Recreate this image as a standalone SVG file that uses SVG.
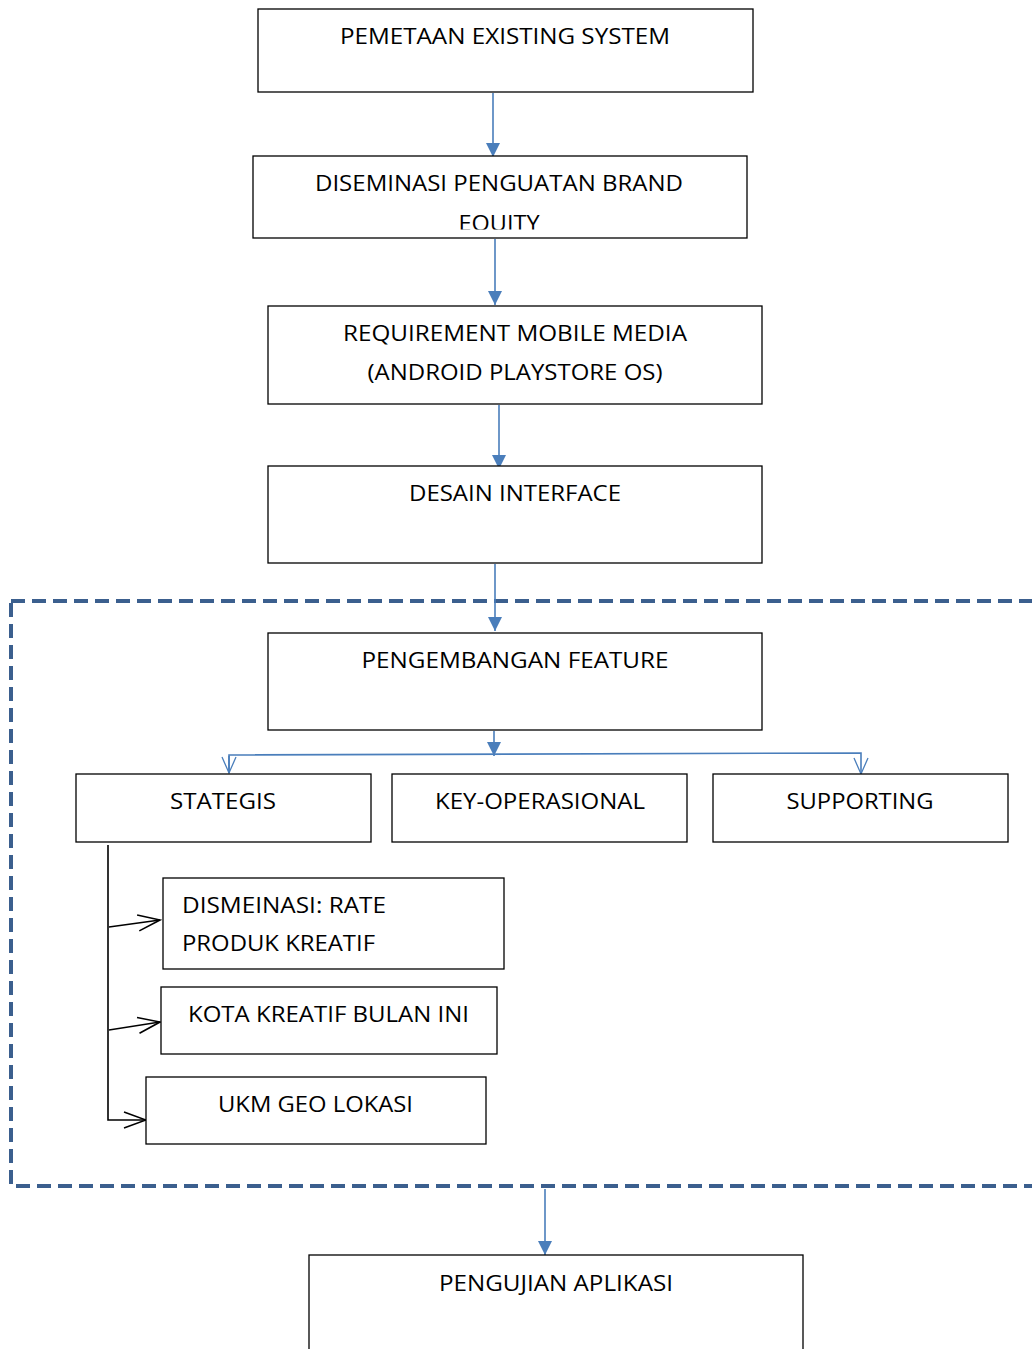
<svg xmlns="http://www.w3.org/2000/svg" width="1032" height="1349" viewBox="0 0 1032 1349">
<style>
.box{fill:#fff;stroke:#000;stroke-width:1.3}
.t{font-family:"Open Sans","Noto Sans",sans-serif;font-size:22px;fill:#000}
.c{text-anchor:middle}
.blue{stroke:#4a7ebb;stroke-width:1.6;fill:none}
.blk{stroke:#000;stroke-width:1.6;fill:none}
</style>
<defs>
<marker id="fa" markerWidth="14" markerHeight="14" refX="14" refY="7" orient="auto" markerUnits="userSpaceOnUse">
<path d="M0,0 L14,7 L0,14 Z" fill="#4a7ebb"/>
</marker>
<marker id="oa" markerWidth="20" markerHeight="16" refX="18" refY="8" orient="auto" markerUnits="userSpaceOnUse">
<path d="M2,1 L18,8 L2,15" fill="none" stroke="#4a7ebb" stroke-width="1.3"/>
</marker>
<marker id="ob" markerWidth="26" markerHeight="20" refX="24" refY="10" orient="auto" markerUnits="userSpaceOnUse">
<path d="M2,2 L24,10 L2,18" fill="none" stroke="#000" stroke-width="1.6"/>
</marker>
<clipPath id="clip2"><rect x="253" y="156" width="494" height="73.5"/></clipPath>
</defs>
<rect x="0" y="0" width="1032" height="1349" fill="#fff"/>

<g id="frame">
<rect x="11" y="601" width="1040" height="585" fill="none" stroke="#3b5f8e" stroke-width="4" stroke-dasharray="14 7"/>
</g>

<g id="connectors">
<line class="blue" x1="493" y1="93" x2="493" y2="157" marker-end="url(#fa)"/>
<line class="blue" x1="495" y1="239" x2="495" y2="305" marker-end="url(#fa)"/>
<line class="blue" x1="499" y1="405" x2="499" y2="469" marker-end="url(#fa)"/>
<line class="blue" x1="495" y1="564" x2="495" y2="631" marker-end="url(#fa)"/>
<line class="blue" x1="494" y1="731" x2="494" y2="756" marker-end="url(#fa)"/>
<polyline class="blue" points="229,773 229,755 861,753 861,774" marker-end="url(#oa)"/>
<line class="blue" x1="229" y1="756" x2="229" y2="773" marker-end="url(#oa)"/>
<polyline class="blk" points="108,845 108,1120 146,1120" marker-end="url(#ob)"/>
<line class="blk" x1="109" y1="927" x2="160" y2="920" marker-end="url(#ob)"/>
<line class="blk" x1="109" y1="1030" x2="160" y2="1022" marker-end="url(#ob)"/>
<line class="blue" x1="545" y1="1189" x2="545" y2="1255" marker-end="url(#fa)"/>
</g>

<g id="n1"><rect class="box" x="258" y="9" width="495" height="83"/>
<text class="t c" x="505" y="44" textLength="330" lengthAdjust="spacingAndGlyphs">PEMETAAN EXISTING SYSTEM</text></g>

<g id="n2"><rect class="box" x="253" y="156" width="494" height="82"/>
<g clip-path="url(#clip2)">
<text class="t c" x="499" y="191" textLength="368" lengthAdjust="spacingAndGlyphs">DISEMINASI PENGUATAN BRAND</text>
<text class="t c" x="499" y="231" textLength="81" lengthAdjust="spacingAndGlyphs">EQUITY</text>
</g></g>

<g id="n3"><rect class="box" x="268" y="306" width="494" height="98"/>
<text class="t c" x="515" y="341" textLength="344" lengthAdjust="spacingAndGlyphs">REQUIREMENT MOBILE MEDIA</text>
<text class="t c" x="515" y="380" textLength="295" lengthAdjust="spacingAndGlyphs">(ANDROID PLAYSTORE OS)</text></g>

<g id="n4"><rect class="box" x="268" y="466" width="494" height="97"/>
<text class="t c" x="515" y="501" textLength="212" lengthAdjust="spacingAndGlyphs">DESAIN INTERFACE</text></g>

<g id="n5"><rect class="box" x="268" y="633" width="494" height="97"/>
<text class="t c" x="515" y="668" textLength="307" lengthAdjust="spacingAndGlyphs">PENGEMBANGAN FEATURE</text></g>

<g id="n6"><rect class="box" x="76" y="774" width="295" height="68"/>
<text class="t c" x="223" y="809" textLength="106" lengthAdjust="spacingAndGlyphs">STATEGIS</text></g>

<g id="n7"><rect class="box" x="392" y="774" width="295" height="68"/>
<text class="t c" x="540" y="809" textLength="210" lengthAdjust="spacingAndGlyphs">KEY-OPERASIONAL</text></g>

<g id="n8"><rect class="box" x="713" y="774" width="295" height="68"/>
<text class="t c" x="860" y="809" textLength="147" lengthAdjust="spacingAndGlyphs">SUPPORTING</text></g>

<g id="n9"><rect class="box" x="163" y="878" width="341" height="91"/>
<text class="t" x="182" y="913" textLength="204" lengthAdjust="spacingAndGlyphs">DISMEINASI: RATE</text>
<text class="t" x="182" y="951" textLength="193" lengthAdjust="spacingAndGlyphs">PRODUK KREATIF</text></g>

<g id="n10"><rect class="box" x="161" y="987" width="336" height="67"/>
<text class="t" x="188" y="1022" textLength="281" lengthAdjust="spacingAndGlyphs">KOTA KREATIF BULAN INI</text></g>

<g id="n11"><rect class="box" x="146" y="1077" width="340" height="67"/>
<text class="t" x="218" y="1112" textLength="195" lengthAdjust="spacingAndGlyphs">UKM GEO LOKASI</text></g>

<g id="n12"><rect class="box" x="309" y="1255" width="494" height="110"/>
<text class="t c" x="556" y="1291" textLength="234" lengthAdjust="spacingAndGlyphs">PENGUJIAN APLIKASI</text></g>
</svg>
